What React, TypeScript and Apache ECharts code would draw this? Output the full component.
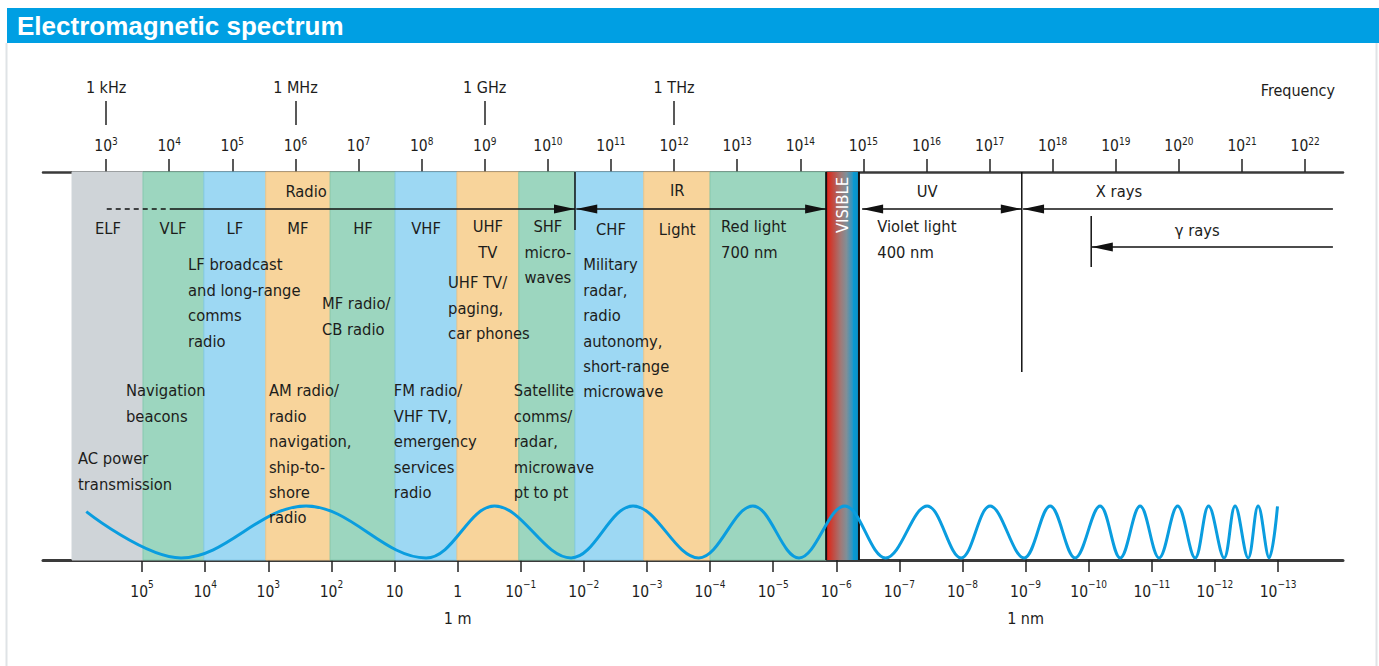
import React, { useEffect, useRef } from "react";
import * as echarts from "echarts";

const FONT = "'DejaVu Sans Condensed','Liberation Sans Narrow','Arial Narrow',sans-serif";
const INK = "#1d1d1b";

// ---- axes (log10 values) ----
const freqTicks = [3, 4, 5, 6, 7, 8, 9, 10, 11, 12, 13, 14, 15, 16, 17, 18, 19, 20, 21, 22];
const unitTicks = [3, 6, 9, 12];
const unitLabels = ["1 kHz", "1 MHz", "1 GHz", "1 THz"];
const waveTicks = [5, 4, 3, 2, 1, 0, -1, -2, -3, -4, -5, -6, -7, -8, -9, -10, -11, -12, -13];
const waveNames: Record<number, string> = { 0: "1 m", [-9]: "1 nm" };

// ---- bands (log10 Hz) ----
const bandNames = ["ELF", "VLF", "LF", "MF", "HF", "VHF", "UHF", "SHF", "CHF", "IR", "Red", "VISIBLE"];
const bandFrom = [2.46, 3.585, 4.55, 5.53, 6.55, 7.58, 8.56, 9.54, 10.43, 11.52, 12.57, 14.41];
const bandTo = [3.585, 4.55, 5.53, 6.55, 7.58, 8.56, 9.54, 10.43, 11.52, 12.57, 14.41, 14.93];
const bandKind = ["gray", "green", "blue", "orange", "green", "blue", "orange", "green", "blue", "orange", "green", "visible"];

// ---- ranges shown with arrows (log10 Hz) ----
const rangeNames = ["Radio", "IR", "UV", "X rays", "γ rays"];
const rangeFrom = [4.06, 10.45, 14.98, 17.53, 18.62];
const rangeTo = [10.43, 14.41, 17.51, 22.44, 22.44];
const rangeLeftHead = [false, true, true, true, true];
const rangeRightHead = [true, true, true, false, false];
const radioDashFrom = 3.01;

// ---- wave extrema (log10 Hz, 0 = trough, 1 = crest) ----
const waveX = [2.686, 4.187, 6.168, 8.07, 9.155, 10.368, 11.35, 12.39, 13.249, 13.98, 14.705, 15.352, 16.01, 16.548, 17.008, 17.547, 17.96, 18.355, 18.75, 19.07, 19.385, 19.686, 19.98, 20.257, 20.47, 20.716, 20.89, 21.097, 21.255, 21.43, 21.562];
const waveY = [0.89, 0, 1, 0, 1, 0, 1, 0, 1, 0, 1, 0, 1, 0, 1, 0, 1, 0, 1, 0, 1, 0, 1, 0, 1, 0, 1, 0, 1, 0, 0.99];

// ---- layout (not data) ----
const Y_MAX = 388;
const rangeRow = [351, 351, 351, 351, 313];
const dividers = [
  { x: 10.43, y0: 388, y1: 330 },
  { x: 17.51, y0: 388, y1: 188 },
  { x: 18.61, y0: 344, y1: 293 },
];
const labels = [
  { t: "Radio", x: 6.17, y: 368, a: "center" },
  { t: "IR", x: 12.05, y: 369, a: "center" },
  { t: "UV", x: 16.01, y: 368, a: "center" },
  { t: "X rays", x: 19.05, y: 368, a: "center" },
  { t: "γ rays", x: 20.29, y: 329, a: "center" },
  { t: "ELF", x: 3.03, y: 331, a: "center" },
  { t: "VLF", x: 4.06, y: 331, a: "center" },
  { t: "LF", x: 5.04, y: 331, a: "center" },
  { t: "MF", x: 6.04, y: 331, a: "center" },
  { t: "HF", x: 7.07, y: 331, a: "center" },
  { t: "VHF", x: 8.07, y: 331, a: "center" },
  { t: "UHF\nTV", x: 9.05, y: 333, a: "center" },
  { t: "SHF\nmicro-\nwaves", x: 10.0, y: 333, a: "center" },
  { t: "CHF", x: 11.0, y: 330, a: "center" },
  { t: "Light", x: 12.05, y: 330, a: "center" },
  { t: "Red light\n700 nm", x: 12.745, y: 333, a: "left" },
  { t: "Violet light\n400 nm", x: 15.22, y: 333, a: "left" },
  { t: "Military\nradar,\nradio\nautonomy,\nshort-range\nmicrowave", x: 10.56, y: 295, a: "left" },
  { t: "UHF TV/\npaging,\ncar phones", x: 8.418, y: 277, a: "left" },
  { t: "LF broadcast\nand long-range\ncomms\nradio", x: 4.298, y: 295, a: "left" },
  { t: "MF radio/\nCB radio", x: 6.42, y: 256, a: "left" },
  { t: "Navigation\nbeacons", x: 3.315, y: 169, a: "left" },
  { t: "AM radio/\nradio\nnavigation,\nship-to-\nshore\nradio", x: 5.58, y: 169, a: "left" },
  { t: "FM radio/\nVHF TV,\nemergency\nservices\nradio", x: 7.56, y: 169, a: "left" },
  { t: "Satellite\ncomms/\nradar,\nmicrowave\npt to pt", x: 9.46, y: 169, a: "left" },
  { t: "AC power\ntransmission", x: 2.555, y: 101, a: "left" },
];
const FS = 16.4;
const LH = 25.4;
const TICK_FS = 15.5;

const kindFill: Record<string, string> = {
  gray: "#cfd4d8",
  green: "#9cd6bf",
  blue: "#9dd8f3",
  orange: "#f8d49b",
};
const kindStroke: Record<string, string> = {
  gray: "#cfd4d8",
  green: "#86c9ae",
  blue: "#86cbe8",
  orange: "#eec68a",
};

const supRich = {
  s: { fontSize: 10, lineHeight: 12, verticalAlign: "top", fontFamily: FONT, color: INK },
  u: { fontSize: 16, lineHeight: 26, fontFamily: FONT, color: INK },
};

function supText(n: number) {
  return n < 0 ? "\u2212" + -n : String(n);
}

export default function App() {
  const ref = useRef<HTMLDivElement>(null);
  useEffect(() => {
    if (!ref.current) return;
    const chart = echarts.init(ref.current, null, { renderer: "svg" });

    const HEAD_L = 21;
    const HEAD_W = 4.6;
    const head = (tip: number, y: number, dir: number) => ({
      type: "polygon",
      shape: { points: [[tip, y], [tip - dir * HEAD_L, y - HEAD_W], [tip - dir * HEAD_L, y + HEAD_W]] },
      style: { fill: "#111" },
    });

    const option: any = {
      animation: false,
      backgroundColor: "#ffffff",
      textStyle: { fontFamily: FONT },
      grid: { left: 43, right: 36, top: 172, bottom: 106, outerBoundsMode: "none", containLabel: false },
      xAxis: [
        {
          type: "value",
          position: "top",
          min: 2,
          max: 22.6,
          axisLine: { show: true, onZero: false, lineStyle: { color: "#3a3a3a", width: 2.5 } },
          axisTick: { show: true, customValues: freqTicks, length: 13, lineStyle: { color: "#222", width: 1.5 } },
          axisLabel: {
            customValues: freqTicks,
            formatter: (v: number) => "10{s|" + supText(Math.round(v)) + "}",
            rich: supRich,
            fontSize: TICK_FS,
            lineHeight: 20,
            fontFamily: FONT,
            color: INK,
            margin: 16,
          },
          splitLine: { show: false },
        },
        {
          type: "value",
          position: "bottom",
          min: -6.57,
          max: 14.03,
          axisLine: { show: true, onZero: false, lineStyle: { color: "#3a3a3a", width: 3 } },
          axisTick: { show: true, customValues: waveTicks.map((w) => -w), length: 12, lineStyle: { color: "#222", width: 1.5 } },
          axisLabel: {
            customValues: waveTicks.map((w) => -w),
            formatter: (v: number) => {
              const w = -Math.round(v);
              let s = w === 0 ? "1" : w === 1 ? "10" : "10{s|" + supText(w) + "}";
              if (waveNames[w]) s += "\n{u|" + waveNames[w] + "}";
              return s;
            },
            rich: supRich,
            fontSize: TICK_FS,
            lineHeight: 26,
            fontFamily: FONT,
            color: INK,
            margin: 19,
          },
          splitLine: { show: false },
        },
        {
          type: "value",
          position: "top",
          offset: 47,
          min: 2,
          max: 22.6,
          axisLine: { show: false, onZero: false },
          axisTick: { show: true, customValues: unitTicks, length: 24, lineStyle: { color: "#222", width: 1.5 } },
          axisLabel: {
            customValues: unitTicks,
            formatter: (v: number) => unitLabels[unitTicks.indexOf(Math.round(v))] || "",
            fontSize: 16,
            lineHeight: 20,
            fontFamily: FONT,
            color: INK,
            margin: 28,
          },
          splitLine: { show: false },
        },
      ],
      yAxis: [
        { type: "value", min: 0, max: Y_MAX, show: false },
        { type: "value", min: -0.04, max: 7.42, show: false },
      ],
      graphic: [
        { type: "rect", shape: { x: 7, y: 8, width: 1372, height: 35 }, style: { fill: "#009fe3" }, z: 10 },
        {
          type: "text",
          x: 17,
          y: 26,
          style: { text: "Electromagnetic spectrum", fill: "#fff", fontSize: 26, fontWeight: "bold", fontFamily: "'Liberation Sans',Arial,sans-serif", verticalAlign: "middle", align: "left" },
          z: 11,
        },
        { type: "rect", shape: { x: 5.5, y: 43, width: 2, height: 623 }, style: { fill: "#dfe3e6" }, z: 10 },
        { type: "rect", shape: { x: 1375.5, y: 43, width: 2, height: 623 }, style: { fill: "#dfe3e6" }, z: 10 },
        {
          type: "text",
          right: 44,
          top: 82,
          style: { text: "Frequency", fill: INK, fontSize: 16, fontFamily: FONT },
          z: 10,
        },
      ],
      series: [
        {
          type: "custom",
          name: "bands",
          xAxisIndex: 0,
          yAxisIndex: 0,
          z: 1,
          data: bandNames.map((n, i) => [bandFrom[i], bandTo[i], i]),
          renderItem: (params: any, api: any) => {
            const i = params.dataIndex;
            const p0 = api.coord([api.value(0), Y_MAX]);
            const p1 = api.coord([api.value(1), 0]);
            const kind = bandKind[i];
            const shape = { x: p0[0], y: p0[1], width: p1[0] - p0[0], height: p1[1] - p0[1] };
            if (kind === "visible") {
              return {
                type: "group",
                children: [
                  {
                    type: "rect",
                    shape,
                    style: {
                      fill: new echarts.graphic.LinearGradient(0, 0, 1, 0, [
                        { offset: 0, color: "#e3211b" },
                        { offset: 0.12, color: "#d1372b" },
                        { offset: 0.45, color: "#a07a78" },
                        { offset: 0.62, color: "#7f8f98" },
                        { offset: 0.8, color: "#2f96c2" },
                        { offset: 0.82, color: "#0a9ad2" },
                        { offset: 1, color: "#0a90c6" },
                      ]),
                    },
                  },
                  { type: "line", shape: { x1: p0[0], y1: p0[1], x2: p0[0], y2: p1[1] }, style: { stroke: "#111", lineWidth: 2 } },
                  { type: "line", shape: { x1: p1[0], y1: p0[1], x2: p1[0], y2: p1[1] }, style: { stroke: "#111", lineWidth: 2 } },
                  {
                    type: "text",
                    x: (p0[0] + p1[0]) / 2,
                    y: api.coord([0, 355])[1],
                    rotation: Math.PI / 2,
                    style: { text: bandNames[i], fill: "#fff", fontSize: 16.5, fontFamily: FONT, align: "center", verticalAlign: "middle" },
                  },
                ],
              };
            }
            return {
              type: "rect",
              shape,
              style: { fill: kindFill[kind], stroke: kindStroke[kind], lineWidth: 1 },
            };
          },
        },
        {
          type: "line",
          name: "wave",
          xAxisIndex: 0,
          yAxisIndex: 1,
          z: 3,
          data: waveX.map((x, i) => [x, waveY[i]]),
          smooth: 0.37,
          symbol: "none",
          lineStyle: { color: "#0a9ddf", width: 3 },
        },
        {
          type: "custom",
          name: "ranges",
          xAxisIndex: 0,
          yAxisIndex: 0,
          z: 4,
          data: rangeNames.map((n, i) => [rangeFrom[i], rangeTo[i], i]),
          renderItem: (params: any, api: any) => {
            const i = params.dataIndex;
            const a = api.coord([api.value(0), rangeRow[i]]);
            const b = api.coord([api.value(1), rangeRow[i]]);
            const children: any[] = [
              { type: "line", shape: { x1: a[0], y1: a[1], x2: b[0], y2: b[1] }, style: { stroke: "#111", lineWidth: 1.5 } },
            ];
            if (rangeLeftHead[i]) children.push(head(a[0], a[1], -1));
            if (rangeRightHead[i]) children.push(head(b[0], b[1], 1));
            if (i === 0) {
              const d = api.coord([radioDashFrom, rangeRow[i]]);
              children.push({
                type: "line",
                shape: { x1: d[0], y1: d[1], x2: a[0], y2: a[1] },
                style: { stroke: "#111", lineWidth: 1.5, lineDash: [5, 4] },
              });
            }
            return { type: "group", children };
          },
        },
        {
          type: "custom",
          name: "dividers",
          xAxisIndex: 0,
          yAxisIndex: 0,
          z: 4,
          data: dividers.map((d) => [d.x, d.y0, d.y1]),
          renderItem: (params: any, api: any) => {
            const a = api.coord([api.value(0), api.value(1)]);
            const b = api.coord([api.value(0), api.value(2)]);
            return { type: "line", shape: { x1: a[0], y1: a[1], x2: b[0], y2: b[1] }, style: { stroke: "#111", lineWidth: 1.5 } };
          },
        },
        {
          type: "custom",
          name: "labels",
          xAxisIndex: 0,
          yAxisIndex: 0,
          z: 5,
          data: labels.map((l) => [l.x, l.y]),
          renderItem: (params: any, api: any) => {
            const l = labels[params.dataIndex];
            const p = api.coord([l.x, l.y]);
            return {
              type: "text",
              x: p[0],
              y: p[1] - LH / 2,
              style: {
                text: l.t,
                fill: INK,
                fontSize: FS,
                fontFamily: FONT,
                align: l.a,
                verticalAlign: "top",
                lineHeight: LH,
              },
            };
          },
        },
      ],
    };
    chart.setOption(option);
    return () => chart.dispose();
  }, []);
  return (
    <div
      ref={ref}
      style={{ position: "absolute", left: 0, top: 0, width: 1379, height: 666, background: "#fff" }}
    />
  );
}
